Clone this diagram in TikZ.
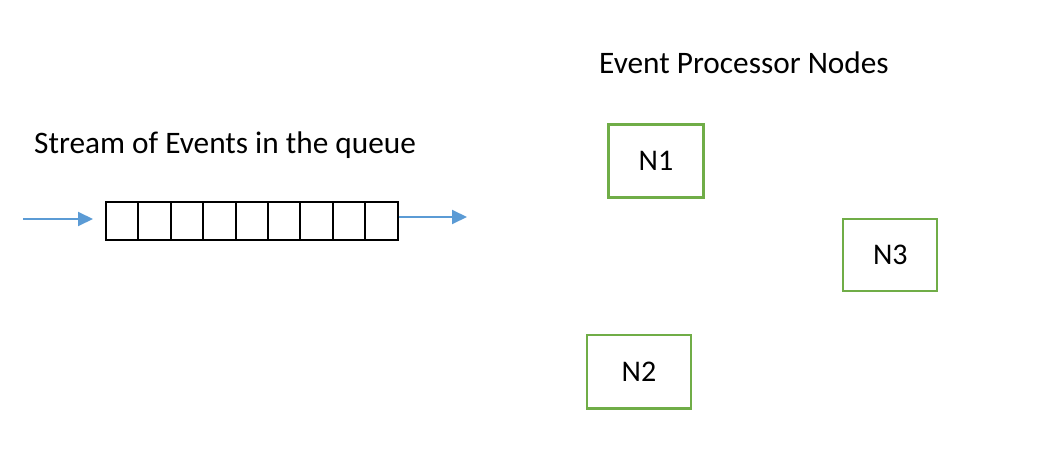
\documentclass[tikz,border=0pt]{standalone}
\usepackage{fontspec}
\setmainfont{Carlito}
\usetikzlibrary{arrows.meta}
\definecolor{arrowblue}{HTML}{5B9BD5}
\definecolor{boxgreen}{HTML}{70AD47}
\begin{document}
\begin{tikzpicture}[x=1pt,y=-1pt,
  cell/.style={draw=black,line width=2pt,minimum width=32.4pt,minimum height=38pt,inner sep=0pt,anchor=north west},
  procbox/.style={draw=boxgreen,line width=2.3pt,inner sep=0pt,font=\fontsize{30}{34}\selectfont},
  label/.style={inner sep=0pt,anchor=base west,font=\fontsize{31.3}{35}\selectfont},
  flow/.style={draw=arrowblue,line width=2pt,-{Triangle[length=15pt,width=14pt]}}]
\useasboundingbox (0,0) rectangle (1058,460);
\node[label] (t1) at (34,153) {Stream of Events in the queue};
\node[label] (t2) at (599,74) {Event Processor Nodes};
\foreach \i in {0,...,8} {
  \node[cell] (c\i) at (105+\i*32.4,201) {};
}
\coordinate (inA) at (23,219);
\coordinate (outB) at (467,217);
\draw[flow] (inA) -- ([xshift=-12pt]c0.west |- inA);
\draw[flow] (c8.east |- outB) -- (outB);
\node[procbox,minimum width=95pt,minimum height=73pt] (n1) at (656,161) {N1};
\node[procbox,minimum width=94pt,minimum height=71.5pt] (n3) at (890.3,255) {N3};
\node[procbox,minimum width=104pt,minimum height=73.5pt] (n2) at (639,371.7) {N2};
\end{tikzpicture}
\end{document}
